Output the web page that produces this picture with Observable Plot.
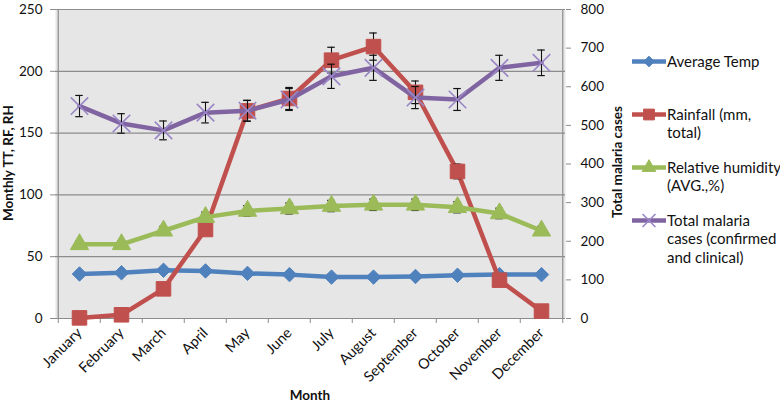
<!DOCTYPE html>
<html><head><meta charset="utf-8">
<script src="https://cdn.jsdelivr.net/npm/d3@7"></script>
<script src="https://cdn.jsdelivr.net/npm/@observablehq/plot@0.6"></script>
<style>
body{margin:0;background:#fff;font-family:Lato, "Open Sans", sans-serif;}
#wrap{position:relative;width:780px;height:404px;overflow:hidden;background:#fff;}
#chart{position:absolute;left:0;top:0;}
.title{position:absolute;font-weight:bold;font-size:13.5px;color:#111;white-space:nowrap;line-height:16px;}
.vt{transform:translate(-50%,-50%) rotate(-90deg);}
.ht{transform:translate(-50%,-50%);}
#legend{position:absolute;left:632px;top:0;width:148px;height:404px;font-size:15px;color:#111;}
.item{position:absolute;left:0;width:148px;}
.item svg{position:absolute;left:0;top:0;}
.item .lab{position:absolute;left:35px;top:0;line-height:18.5px;white-space:nowrap;}
</style></head>
<body>
<div id="wrap">
  <div id="chart"></div>
  <div class="title vt" style="left:8px;top:163px;">Monthly TT, RF, RH</div>
  <div class="title vt" style="left:617px;top:162px;">Total malaria cases</div>
  <div class="title ht" style="left:310px;top:395px;">Month</div>
  <div id="legend"></div>
</div>
<script>
const months = ["January","February","March","April","May","June","July","August","September","October","November","December"];
const avgTemp  = [36, 37, 39, 38.5, 36.5, 35.5, 33.5, 33.5, 34, 35, 35.5, 35.5];
const rainfall = [0.5, 3, 24, 72, 168, 178, 209, 220, 183, 119, 31, 6];
const humidity = [60, 60, 71, 82, 87, 89, 91, 92, 92, 90, 85, 71];
const malaria  = [550, 505, 487, 533, 538, 567, 627, 649, 572, 567, 649, 662];
const errorPercent = 5;
const leftTicks  = [0, 50, 100, 150, 200, 250];
const rightTicks = [0, 100, 200, 300, 400, 500, 600, 700, 800];
const leftMax = 250, rightMax = 800;
const k = leftMax / rightMax;

const series = [
  {name:"Average Temp", lines:["Average Temp"], values:avgTemp, scale:1, color:"#4f81bd", mfill:"#4f81bd", mstroke:"#4f81bd", symbol:"diamond2", sym:d3.symbolDiamond2, r:6.5, top:61},
  {name:"Rainfall (mm, total)", lines:["Rainfall (mm,","total)"], values:rainfall, scale:1, color:"#c0504d", mfill:"#c0504d", mstroke:"#c0504d", symbol:"square", sym:d3.symbolSquare, r:8.2, top:114},
  {name:"Relative humidity (AVG.,%)", lines:["Relative humidity","(AVG.,%)"], values:humidity, scale:1, color:"#9bbb59", mfill:"#9bbb59", mstroke:"#9bbb59", symbol:"triangle", sym:d3.symbolTriangle, r:6.8, top:167},
  {name:"Total malaria cases (confirmed and clinical)", lines:["Total malaria","cases (confirmed","and clinical)"], values:malaria, scale:k, color:"#8064a2", mfill:"none", mstroke:"#9a86c6", symbol:"times", sym:d3.symbolTimes, r:8, top:220}
];

const rows = series.flatMap(s => months.map((m, i) => {
  const v = s.values[i] * s.scale;
  return {month:m, name:s.name, v, e: v * errorPercent / 100};
}));

const W = 630, H = 404;
const mL = 55, mR = 65, mT = 9, mB = 86;
const bw = (W - mL - mR) / months.length;
const capInset = (bw - 8) / 2;

const marks = [
  Plot.frame({fill:"#e6e6e6", stroke:null}),
  Plot.gridY(leftTicks, {stroke:"#8c8c8c", strokeOpacity:1, strokeWidth:1.2}),
  Plot.ruleX([months[0]], {dx:-bw/2, stroke:"#8c8c8c", strokeWidth:1.2}),
  Plot.ruleX([months[months.length-1]], {dx:bw/2, stroke:"#8c8c8c", strokeWidth:1.2}),
  Plot.axisY(leftTicks, {anchor:"left", tickSize:5, tickPadding:8, stroke:"#8c8c8c", fill:"#111", fontSize:13.5, label:null}),
  Plot.axisY(rightTicks.map(v => v * k), {anchor:"right", tickSize:5, tickPadding:10, stroke:"#8c8c8c", fill:"#111", fontSize:13.5, label:null, tickFormat: v => String(Math.round(v / k))}),
  Plot.axisX(months, {anchor:"bottom", tickSize:5, dx:-bw/2, stroke:"#8c8c8c", tickFormat:() => "", label:null}),
  Plot.axisX([months[months.length-1]], {anchor:"bottom", tickSize:5, dx:bw/2, stroke:"#8c8c8c", tickFormat:() => "", label:null}),
  Plot.axisX(months, {anchor:"bottom", tickSize:0, tickPadding:12, tickRotate:-45, fill:"#111", fontSize:14.5, label:null})
];
for (const s of series) {
  const d = rows.filter(r => r.name === s.name);
  marks.push(Plot.line(d, {x:"month", y:"v", stroke:s.color, strokeWidth:4.5, strokeLinejoin:"round"}));
  marks.push(Plot.ruleX(d, {x:"month", y1:r => r.v - r.e, y2:r => r.v + r.e, stroke:"#111", strokeWidth:1.1}));
  marks.push(Plot.tickY(d, {x:"month", y:r => r.v + r.e, insetLeft:capInset, insetRight:capInset, stroke:"#111", strokeWidth:1.2}));
  marks.push(Plot.tickY(d, {x:"month", y:r => r.v - r.e, insetLeft:capInset, insetRight:capInset, stroke:"#111", strokeWidth:1.2}));
  marks.push(Plot.dot(d, {x:"month", y:"v", symbol:s.symbol, r:s.r, fill:s.mfill, stroke:s.mstroke, strokeWidth: s.mfill === "none" ? 1.6 : 1}));
}

const chart = Plot.plot({
  width:W, height:H,
  marginLeft:mL, marginRight:mR, marginTop:mT, marginBottom:mB,
  style:{fontFamily:"Lato, 'Open Sans', sans-serif", fontSize:"14px", color:"#111", background:"transparent", overflow:"visible"},
  x:{type:"band", domain:months, padding:0, axis:null},
  y:{domain:[0, leftMax], axis:null},
  marks
});
document.getElementById("chart").append(chart);

// legend
const legend = d3.select("#legend");
for (const s of series) {
  const item = legend.append("div").attr("class","item").style("top", (s.top - 9.25) + "px");
  const svg = item.append("svg").attr("width", 36).attr("height", 19);
  svg.append("line").attr("x1",0).attr("x2",34).attr("y1",9.5).attr("y2",9.5).attr("stroke", s.color).attr("stroke-width",4.5);
  svg.append("path").attr("transform","translate(17,9.5)")
    .attr("d", d3.symbol(s.sym, Math.PI * s.r * s.r * 0.55)())
    .attr("fill", s.mfill).attr("stroke", s.mstroke).attr("stroke-width", s.mfill === "none" ? 1.6 : 1);
  item.append("div").attr("class","lab").html(s.lines.join("<br>"));
}
</script>
</body></html>
